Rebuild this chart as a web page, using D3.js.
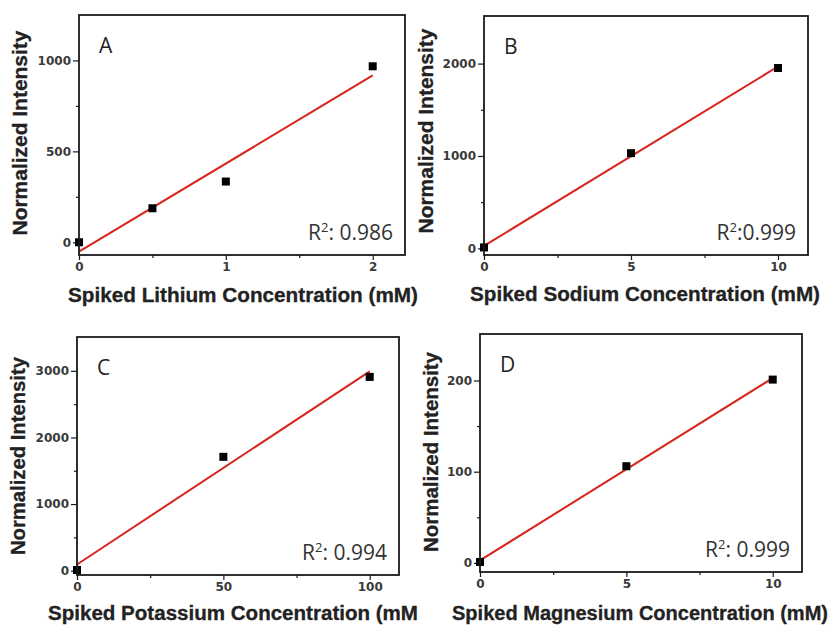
<!DOCTYPE html>
<html>
<head>
<meta charset="utf-8">
<script src="https://cdn.jsdelivr.net/npm/d3@7"></script>
<style>
  body { margin: 0; background: #fff; }
  .tick text { font-family: "DejaVu Sans", sans-serif; font-weight: bold; font-size: 12px; fill: #3a3a3a; }
</style>
</head>
<body>
<div id="chart"></div>
<script>
const width = 838
const height = 628

const red = "#d8231c"
const ink = "#1a1a1a"

// --- data ---
const panelLetters = ["A", "B", "C", "D"]
const yTitle = "Normalized Intensity"
const xTitles = [
  "Spiked Lithium Concentration (mM)",
  "Spiked Sodium Concentration (mM)",
  "Spiked Potassium Concentration (mM",
  "Spiked Magnesium Concentration (mM)"
]
const r2Values = [": 0.986", ":0.999", ": 0.994", ": 0.999"]

const liX = [0, 0.5, 1, 2]
const liY = [0, 187, 334, 968]
const naX = [0, 5, 10]
const naY = [10, 1030, 1952]
const kX = [0, 50, 100]
const kY = [10, 1709, 2909]
const mgX = [0, 5, 10]
const mgY = [1, 106, 201]

const liXTicks = [0, 1, 2], liXMinor = [0.5, 1.5]
const liYTicks = [0, 500, 1000], liYMinor = [250, 750]
const naXTicks = [0, 5, 10], naXMinor = [2.5, 7.5]
const naYTicks = [0, 1000, 2000], naYMinor = [500, 1500]
const kXTicks = [0, 50, 100], kXMinor = [25, 75]
const kYTicks = [0, 1000, 2000, 3000], kYMinor = [500, 1500, 2500]
const mgXTicks = [0, 5, 10], mgXMinor = [2.5, 7.5]
const mgYTicks = [0, 100, 200], mgYMinor = [50, 150]

// --- layout: plot box (l, t, r, b), axis ranges and title spots ---
const panels = [
  { x: liX, y: liY, xt: liXTicks, xm: liXMinor, yt: liYTicks, ym: liYMinor,
    box: [79, 15, 405, 255], xd: [0, 2.22], yd: [-70, 1250],
    xTitle: [68, 302, 350], yTitle: [27, 133, 205] },
  { x: naX, y: naY, xt: naXTicks, xm: naXMinor, yt: naYTicks, ym: naYMinor,
    box: [484, 16, 808, 255], xd: [0, 11.02], yd: [-72, 2515],
    xTitle: [470, 301, 350], yTitle: [433, 131, 205] },
  { x: kX, y: kY, xt: kXTicks, xm: kXMinor, yt: kYTicks, ym: kYMinor,
    box: [77, 337, 399, 575], xd: [0, 110], yd: [-65, 3508],
    xTitle: [48, 620, 370], yTitle: [25, 456, 198] },
  { x: mgX, y: mgY, xt: mgXTicks, xm: mgXMinor, yt: mgYTicks, ym: mgYMinor,
    box: [480, 334, 802, 572], xd: [0, 11], yd: [-10, 251],
    xTitle: [452, 620, 376], yTitle: [438, 452, 200] }
]

const svg = d3.select("#chart")
  .append("svg")
  .attr("width", width)
  .attr("height", height)
  .attr("viewBox", `0 0 ${width} ${height}`)

// least squares line through the points
function fit(xs, ys) {
  const mx = d3.mean(xs), my = d3.mean(ys)
  const sxy = d3.sum(xs, (v, i) => (v - mx) * (ys[i] - my))
  const sxx = d3.sum(xs, v => (v - mx) ** 2)
  const slope = sxy / sxx
  return { slope, icpt: my - slope * mx }
}

const plain = d3.format("")

panels.forEach((p, k) => {
  const [l, t, r, b] = p.box
  const w = r - l, h = b - t

  const x = d3.scaleLinear().domain(p.xd).range([0, w])
  const y = d3.scaleLinear().domain(p.yd).range([h, 0])

  const g = svg.append("g").attr("transform", `translate(${l},${t})`)

  // axes (major + minor ticks, outward)
  const addAxis = (axis, tr) => {
    const a = g.append("g").attr("transform", tr).call(axis)
    a.select(".domain").remove()
    a.selectAll(".tick line").attr("stroke", ink).attr("stroke-width", 1.2)
    return a
  }
  addAxis(d3.axisBottom(x).tickValues(p.xm).tickSize(3).tickFormat(""), `translate(0,${h})`)
  addAxis(d3.axisLeft(y).tickValues(p.ym).tickSize(3).tickFormat(""), "")
  addAxis(d3.axisBottom(x).tickValues(p.xt).tickSize(5).tickPadding(2).tickFormat(plain), `translate(0,${h})`)
  addAxis(d3.axisLeft(y).tickValues(p.yt).tickSize(6).tickPadding(2).tickFormat(plain), "")

  // fit line
  const f = fit(p.x, p.y)
  const ext = d3.extent(p.x)
  g.append("line")
    .attr("x1", x(ext[0])).attr("y1", y(f.icpt + f.slope * ext[0]))
    .attr("x2", x(ext[1])).attr("y2", y(f.icpt + f.slope * ext[1]))
    .attr("stroke", red)
    .attr("stroke-width", 2)

  // points
  g.selectAll("rect.pt")
    .data(p.x.map((v, i) => [v, p.y[i]]))
    .join("rect")
      .attr("class", "pt")
      .attr("x", d => x(d[0]) - 4)
      .attr("y", d => y(d[1]) - 4)
      .attr("width", 8)
      .attr("height", 8)
      .attr("fill", "#000")

  // frame
  g.append("rect")
    .attr("width", w).attr("height", h)
    .attr("fill", "none")
    .attr("stroke", ink)
    .attr("stroke-width", 1.8)

  // panel letter
  g.append("text")
    .attr("x", 20).attr("y", 38)
    .attr("font-family", "Open Sans, sans-serif")
    .attr("font-size", 21)
    .attr("fill", "#222")
    .text(panelLetters[k])

  // R^2 label
  const rt = g.append("text")
    .attr("x", w - 12).attr("y", h - 15)
    .attr("text-anchor", "end")
    .attr("font-family", "Open Sans, sans-serif")
    .attr("font-size", 21)
    .attr("fill", "#333")
  rt.append("tspan").text("R")
  rt.append("tspan").attr("dy", -8).attr("font-size", 13).text("2")
  rt.append("tspan").attr("dy", 8).text(r2Values[k])

  // axis titles
  svg.append("text")
    .attr("x", p.xTitle[0]).attr("y", p.xTitle[1])
    .attr("textLength", p.xTitle[2])
    .attr("lengthAdjust", "spacingAndGlyphs")
    .attr("font-family", "Liberation Sans, Arial, sans-serif")
    .attr("font-weight", "bold")
    .attr("font-size", 20)
    .attr("fill", "#222")
    .attr("stroke", "#222")
    .attr("stroke-width", 0.3)
    .text(xTitles[k])

  svg.append("text")
    .attr("transform", `translate(${p.yTitle[0]},${p.yTitle[1]}) rotate(-90)`)
    .attr("text-anchor", "middle")
    .attr("textLength", p.yTitle[2])
    .attr("lengthAdjust", "spacingAndGlyphs")
    .attr("font-family", "Liberation Sans, Arial, sans-serif")
    .attr("font-weight", "bold")
    .attr("font-size", 20)
    .attr("fill", "#222")
    .attr("stroke", "#222")
    .attr("stroke-width", 0.3)
    .text(yTitle)
})
</script>
</body>
</html>
